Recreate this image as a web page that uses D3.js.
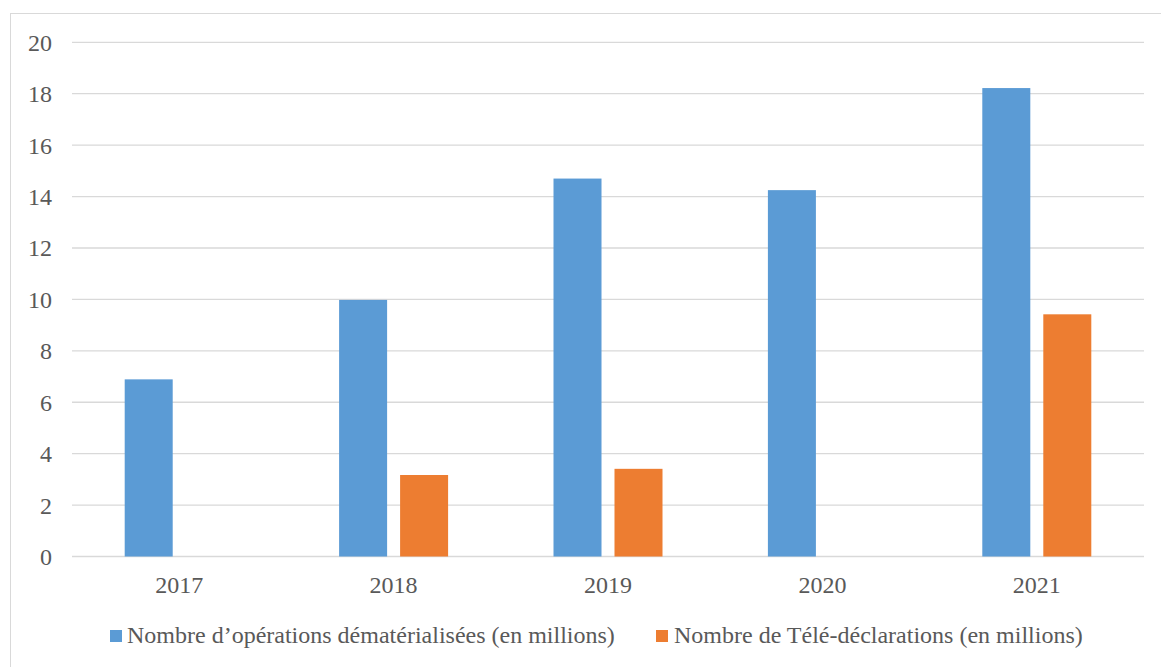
<!DOCTYPE html>
<html><head><meta charset="utf-8">
<script src="https://cdn.jsdelivr.net/npm/d3@7"></script>
<style>html,body{margin:0;padding:0;background:#fff;}svg{display:block;}</style>
</head><body>
<svg id="chart" width="1161" height="667"></svg>
<script>
const categories = ["2017","2018","2019","2020","2021"];
const seriesNames = ["Nombre d’opérations dématérialisées (en millions)","Nombre de Télé-déclarations (en millions)"];
const operations = [6.89, 9.98, 14.70, 14.25, 18.22];
const teleDeclarations = [null, 3.17, 3.41, null, 9.42];
const yTicks = [0,2,4,6,8,10,12,14,16,18,20];
const colors = ["#5b9bd5","#ed7d31"];

const svg = d3.select("#chart");
const font = "'Liberation Serif','Times New Roman',serif";
const fs = "24px";
const plotLeft = 72, plotRight = 1144, plotTop = 42.3, plotBottom = 556.5;

svg.append("rect").attr("x",10.5).attr("y",13.5).attr("width",1160).attr("height",680)
  .attr("fill","#fff").attr("stroke","#d9d9d9").attr("stroke-width",1);

const y = d3.scaleLinear().domain([0,20]).range([plotBottom, plotTop]);
const x0 = d3.scaleBand().domain(categories).range([plotLeft, plotRight]).padding(0);
const groupW = 109;
const x1 = d3.scaleBand().domain(seriesNames).range([-groupW/2, groupW/2]).paddingInner(0.213);

// gridlines
svg.append("g").selectAll("line").data(yTicks).join("line")
  .attr("x1",plotLeft).attr("x2",plotRight)
  .attr("y1",d=>y(d)).attr("y2",d=>y(d))
  .attr("stroke","#d9d9d9").attr("stroke-width",1.3);

// y axis
const yAxis = d3.axisLeft(y).tickValues(yTicks).tickSize(0).tickPadding(0);
const gy = svg.append("g").attr("transform",`translate(52,0)`).call(yAxis);
gy.select(".domain").remove();
gy.selectAll("text").attr("font-family",font).attr("font-size",fs).attr("fill","#595959").attr("dy","0.33em");

// x axis
const xAxis = d3.axisBottom(x0).tickSize(0).tickPadding(0);
const gx = svg.append("g").attr("transform",`translate(0,${plotBottom})`).call(xAxis);
gx.select(".domain").remove();
gx.selectAll("text").attr("font-family",font).attr("font-size",fs).attr("fill","#595959").attr("dy","0").attr("y",36);

// bars
const seriesData = [operations, teleDeclarations];
seriesData.forEach((vals, si) => {
  svg.append("g").selectAll("rect").data(categories.map((c,i)=>({c, v: vals[i]})).filter(d=>d.v!=null)).join("rect")
    .attr("x", d => x0(d.c) + x0.bandwidth()/2 + x1(seriesNames[si]))
    .attr("width", x1.bandwidth())
    .attr("y", d => y(d.v))
    .attr("height", d => y(0) - y(d.v))
    .attr("fill", colors[si]);
});

// legend
const legendItems = [{x:110, gap:17, name: seriesNames[0], color: colors[0]},{x:656, gap:18, name: seriesNames[1], color: colors[1]}];
const lg = svg.append("g");
legendItems.forEach(it => {
  lg.append("rect").attr("x",it.x).attr("y",630).attr("width",12).attr("height",12).attr("fill",it.color);
  lg.append("text").attr("x",it.x+it.gap).attr("y",643).attr("font-family",font).attr("font-size",fs).attr("fill","#595959").text(it.name);
});
</script>
</body></html>
